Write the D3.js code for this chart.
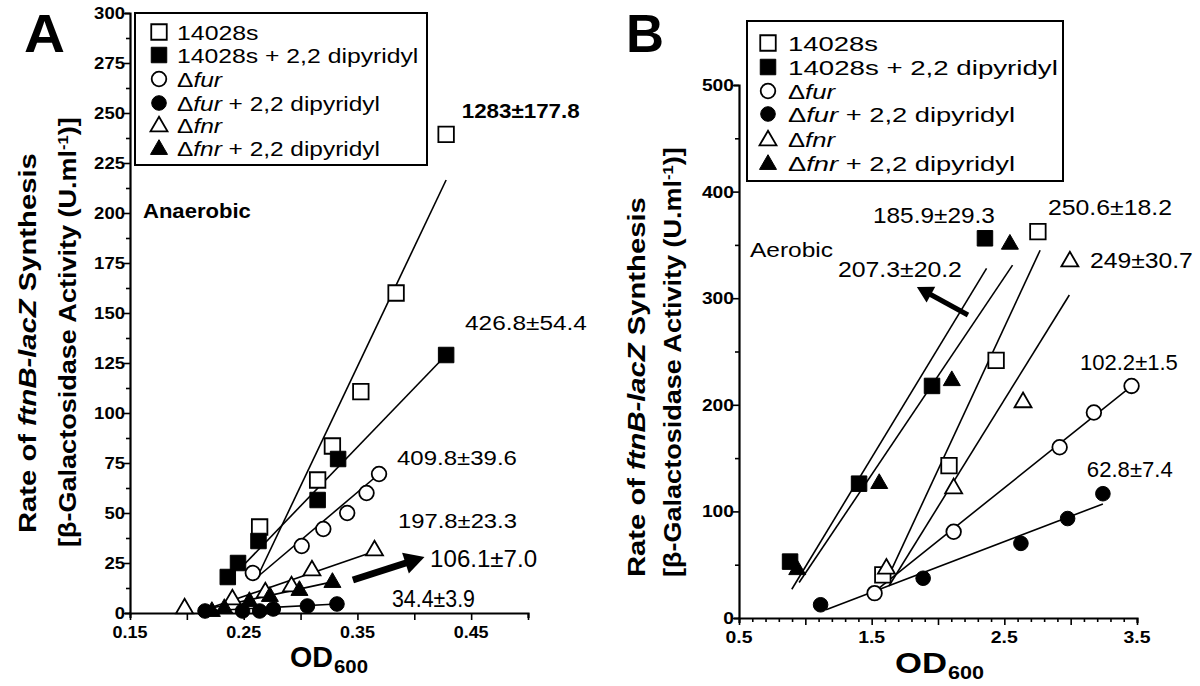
<!DOCTYPE html>
<html><head><meta charset="utf-8">
<script src="https://cdn.jsdelivr.net/npm/d3@7"></script>
<style>body{margin:0;background:#fff}svg{display:block}</style>
</head><body><svg id="c" width="1200" height="686"></svg>
<script>
// ---------------- DATA ----------------
const seriesNames = ["14028s","14028s + 2,2 dipyridyl","Δfur","Δfur + 2,2 dipyridyl","Δfnr","Δfnr + 2,2 dipyridyl"];
const seriesShape = ["square","square","circle","circle","triangle","triangle"];
const seriesFilled = [false,true,false,true,false,true];

// Panel A (anaerobic)
const aWtX = [0.264,0.315,0.328,0.353,0.384,0.428];
const aWtY = [43,66.5,83.5,110.7,160,239.3];
const aWtDipX = [0.236,0.245,0.263,0.315,0.333,0.428];
const aWtDipY = [18,25,36,56.5,77,129];
const aFurX = [0.258,0.301,0.320,0.341,0.358,0.369];
const aFurY = [20,33.5,42,50,60,69.5];
const aFurDipX = [0.216,0.249,0.264,0.276,0.306,0.332];
const aFurDipY = [1,1,1,2,3.5,4.5];
const aFnrX = [0.198,0.240,0.269,0.292,0.310,0.365];
const aFnrY = [3,7.5,11,14,22,32];
const aFnrDipX = [0.222,0.233,0.255,0.273,0.299,0.328];
const aFnrDipY = [1.5,3,6.5,9,12,16];
// fitted lines A (start, end)
const aFitWtX = [0.262,0.428], aFitWtY = [18,216.5];
const aFitWtDipX = [0.250,0.428], aFitWtDipY = [24,129];
const aFitFurX = [0.262,0.369], aFitFurY = [18,69.5];
const aFitFurDipX = [0.216,0.332], aFitFurDipY = [1,4.5];
const aFitFnrX = [0.210,0.366], aFitFnrY = [0.5,31];
const aFitFnrDipX = [0.214,0.329], aFitFnrDipY = [1.5,15.7];

// Panel B (aerobic)
const bWtX = [1.584,2.083,2.438,2.753];
const bWtY = [40.4,143,241.7,362.4];
const bWtDipX = [0.885,1.405,1.955,2.354];
const bWtDipY = [52.9,126,217.7,356.2];
const bFurX = [1.522,2.118,2.917,3.175,3.459];
const bFurY = [23.3,80.9,160.2,192.8,217.7];
const bFurDipX = [1.115,1.888,2.625,2.977,3.243];
const bFurDipY = [12.4,37.3,70,93.3,116.6];
const bFnrX = [1.611,2.118,2.641,2.994];
const bFnrY = [47.6,122.9,203.7,335.8];
const bFnrDipX = [0.939,1.557,2.104,2.542];
const bFnrDipY = [46.7,127.5,224,352];
const bFitWtX = [1.60,2.77], bFitWtY = [32,345];
const bFitWtDipX = [0.898,2.366], bFitWtDipY = [27,328];
const bFitFurX = [1.508,3.473], bFitFurY = [23.3,219];
const bFitFurDipX = [1.156,3.243], bFitFurDipY = [7.8,107];
const bFitFnrX = [1.63,2.99], bFitFnrY = [30,303];
const bFitFnrDipX = [0.953,2.562], bFitFnrDipY = [33.3,331];

// tick labels
const aYTicks = [0,25,50,75,100,125,150,175,200,225,250,275,300];
const aXTicks = [0.15,0.25,0.35,0.45];
const bYTicks = [0,100,200,300,400,500];
const bXTicks = [0.5,1.5,2.5,3.5];

// slope annotations
const aNotes = ["1283±177.8","426.8±54.4","409.8±39.6","197.8±23.3","106.1±7.0","34.4±3.9"];
const aNoteX = [0.4417,0.4446,0.3848,0.3857,0.4139,0.3804];
const aNoteY = [247.5,141.5,74,42.5,23,3];
const bNotes = ["185.9±29.3","207.3±20.2","250.6±18.2","249±30.7","102.2±1.5","62.8±7.4"];
const bNoteX = [1.51,1.246,2.829,3.145,3.07,3.122];
const bNoteY = [370.5,319.9,378,328.3,232.6,132.3];
const aArrowX = [0.346,0.409], aArrowY = [16.5,28];
const bArrowX = [2.226,1.841], bArrowY = [284.2,310.5];

// ---------------- DRAW ----------------
const svg = d3.select("#c");
const FONT = "'Liberation Sans', Arial, Helvetica, sans-serif";

function label(g, x, y, parts, o) {
  const t = g.append("text").attr("font-family", FONT)
    .attr("font-size", o.size).attr("font-weight", o.bold ? 700 : 400).attr("fill", "#000");
  parts.forEach(p => {
    const s = typeof p === "string" ? {t: p} : p;
    const ts = t.append("tspan").text(s.t);
    if (s.i) ts.attr("font-style", "italic");
    if (s.dy != null) ts.attr("dy", s.dy);
    if (s.fs) ts.attr("font-size", s.fs);
  });
  const len = t.node().getComputedTextLength();
  const wd = o.w || len;
  const k = wd / len;
  const ky = o.ky || 1;
  const off = o.anchor === "middle" ? -wd / 2 : o.anchor === "end" ? -wd : 0;
  t.attr("transform", `translate(${x},${y}) rotate(${o.rot || 0}) translate(${off},0) scale(${k},${ky})`);
  return t;
}
function nameParts(n) {
  if (n.startsWith("Δ")) {
    const m = n.match(/^Δ(\w+)(.*)$/);
    return m[2] ? ["Δ", {t: m[1], i: 1}, m[2]] : ["Δ", {t: m[1], i: 1}];
  }
  return [n];
}
function symPath(shape) {
  if (shape === "square") return d3.symbol(d3.symbolSquare, 15.5 * 15.5)();
  if (shape === "circle") return d3.symbol(d3.symbolCircle, Math.PI * 7.3 * 7.3)();
  return d3.symbol(d3.symbolTriangle, 0.433 * 17 * 17)();
}
function marker(g, x, y, i) {
  g.append("path").attr("d", symPath(seriesShape[i]))
    .attr("transform", `translate(${x},${y + (seriesShape[i] === "triangle" ? 1.5 : 0)})`)
    .attr("fill", seriesFilled[i] ? "#000" : "#fff")
    .attr("stroke", "#000").attr("stroke-width", seriesFilled[i] ? 1 : 1.8);
}
function arrow(g, x1, y1, x2, y2, w, hl, hw) {
  const dx = x2 - x1, dy = y2 - y1, L = Math.hypot(dx, dy), ux = dx / L, uy = dy / L;
  const bx = x2 - ux * hl, by = y2 - uy * hl;
  g.append("line").attr("x1", x1).attr("y1", y1).attr("x2", bx + ux * 2).attr("y2", by + uy * 2)
    .attr("stroke", "#000").attr("stroke-width", w);
  g.append("path").attr("d", `M${x2},${y2}L${bx - uy * hw},${by + ux * hw}L${bx + uy * hw},${by - ux * hw}Z`)
    .attr("fill", "#000");
}

function panel(cfg) {
  const g = svg.append("g");
  const {x, y} = cfg;
  // axes
  const yAx = d3.axisLeft(y).tickValues(cfg.yMinor).tickSize(cfg.tickLen).tickFormat("");
  const gy = g.append("g").attr("transform", `translate(${x.range()[0]},0)`).call(yAx);
  const xAx = d3.axisBottom(x).tickValues(cfg.xMinor).tickSize(cfg.tickLen).tickFormat("");
  const gx = g.append("g").attr("transform", `translate(0,${y.range()[0]})`).call(xAx);
  [gy, gx].forEach(a => {
    a.select(".domain").attr("stroke-width", 2.2).attr("stroke", "#000");
    a.selectAll(".tick line").attr("stroke-width", 1.6).attr("stroke", "#000");
  });
  gy.selectAll(".tick line").attr("x2", d => cfg.yTicks.includes(d) ? -6 : -4);
  gx.selectAll(".tick line").attr("y2", d => cfg.xMajorTest(d) ? 7 : 4);
  // tick labels
  cfg.yTicks.forEach(v => label(g, x.range()[0] - 5, y(v) + 6, [String(v)],
    {size: 16, bold: true, w: String(v).length * cfg.yDigitW, anchor: "end"}));
  cfg.xTicks.forEach(v => label(g, x(v), cfg.xLabBase, [cfg.xFmt(v)],
    {size: 17, bold: true, w: cfg.xLabW, anchor: "middle"}));
  // fit lines
  cfg.fits.forEach(f => g.append("line")
    .attr("x1", x(f[0][0])).attr("y1", y(f[1][0])).attr("x2", x(f[0][1])).attr("y2", y(f[1][1]))
    .attr("stroke", "#000").attr("stroke-width", 1.6));
  // points
  cfg.series.forEach((s, i) => s[0].forEach((vx, j) => marker(g, x(vx), y(s[1][j]), i)));
  // notes
  cfg.notes.forEach((n, i) => label(g, x(cfg.noteX[i]), y(cfg.noteY[i]), [n],
    {size: cfg.noteSize[i], bold: cfg.noteBold[i], w: cfg.noteW[i]}));
  // arrow
  arrow(g, x(cfg.arrX[0]), y(cfg.arrY[0]), x(cfg.arrX[1]), y(cfg.arrY[1]), cfg.arrW, cfg.arrHL, cfg.arrHW);
  // legend
  const L = cfg.legend;
  g.append("rect").attr("x", L.x0).attr("y", L.y0).attr("width", L.x1 - L.x0).attr("height", L.y1 - L.y0)
    .attr("fill", "#fff").attr("stroke", "#000").attr("stroke-width", 2);
  seriesNames.forEach((n, i) => {
    marker(g, L.sx, L.rows[i], i);
    label(g, L.tx, L.rows[i] + 7.5, nameParts(n), {size: 21, w: L.widths[i]});
  });
  // condition label
  label(g, x(cfg.cond[1]), y(cfg.cond[2]), [cfg.cond[0]], {size: 20, bold: cfg.cond[4], w: cfg.cond[3]});
  // axis title x
  const od = cfg.od;
  label(g, od[0], od[1], ["OD"], {size: 29, bold: true, w: od[2]});
  label(g, od[0] + od[2] + 1, od[1] + 6, ["600"], {size: 19, bold: true, w: od[3]});
  // y title
  const yt = cfg.yTitle;
  label(g, yt[0], yt[1], ["Rate of ", {t: "ftnB-lacZ", i: 1}, " Synthesis"],
    {size: 23, bold: true, w: yt[2], rot: -90, anchor: "middle"});
  label(g, yt[3], yt[4], ["[β-Galactosidase Activity (U.ml", {t: "-1", dy: -8, fs: 14}, {t: ")]", dy: 8}],
    {size: 23, bold: true, w: yt[5], rot: -90, anchor: "middle"});
  // panel letter
  label(g, cfg.letter[1], cfg.letter[2], [cfg.letter[0]], {size: 48, bold: true, w: cfg.letter[3], ky: 1.12});
}

const xA = d3.scaleLinear().domain([0.15, 0.50]).range([130, 528]);
const yA = d3.scaleLinear().domain([0, 300]).range([613, 13]);
const xB = d3.scaleLinear().domain([0.5, 3.5]).range([739, 1137]);
const yB = d3.scaleLinear().domain([0, 500]).range([618, 85]);

panel({
  x: xA, y: yA, tickLen: 5,
  yMinor: d3.range(0, 300.1, 12.5), yTicks: aYTicks, yDigitW: 10.3,
  xMinor: d3.range(0, 8).map(i => 0.15 + i * 0.05), xMajorTest: d => true,
  xTicks: aXTicks, xFmt: v => v.toFixed(2), xLabBase: 638, xLabW: 35,
  fits: [[aFitWtX, aFitWtY], [aFitWtDipX, aFitWtDipY], [aFitFurX, aFitFurY],
         [aFitFurDipX, aFitFurDipY], [aFitFnrX, aFitFnrY], [aFitFnrDipX, aFitFnrDipY]],
  series: [[aWtX, aWtY], [aWtDipX, aWtDipY], [aFurX, aFurY], [aFurDipX, aFurDipY], [aFnrX, aFnrY], [aFnrDipX, aFnrDipY]],
  notes: aNotes, noteX: aNoteX, noteY: aNoteY,
  noteSize: [21, 21, 21, 21, 23, 23], noteBold: [true, false, false, false, false, false],
  noteW: [118, 122, 120, 119, 107, 83],
  arrX: aArrowX, arrY: aArrowY, arrW: 7, arrHL: 20, arrHW: 11,
  legend: {x0: 135, y0: 13, x1: 427, y1: 165, sx: 159, tx: 177,
           rows: [32, 55, 79, 103, 125, 148], widths: [81.6, 241.6, 45, 203, 45, 203]},
  cond: ["Anaerobic", 0.1614, 197.5, 108, true],
  od: [290, 667, 43, 34],
  yTitle: [36, 343, 380, 76, 332, 430],
  letter: ["A", 24, 52, 41]
});

panel({
  x: xB, y: yB, tickLen: 5,
  yMinor: d3.range(0, 500.1, 50), yTicks: bYTicks, yDigitW: 10.7,
  xMinor: d3.range(0, 31).map(i => +(0.5 + i * 0.1).toFixed(1)), xMajorTest: d => Math.abs(d * 2 - Math.round(d * 2)) < 1e-6,
  xTicks: bXTicks, xFmt: v => v.toFixed(1), xLabBase: 643, xLabW: 27,
  fits: [[bFitWtX, bFitWtY], [bFitWtDipX, bFitWtDipY], [bFitFurX, bFitFurY],
         [bFitFurDipX, bFitFurDipY], [bFitFnrX, bFitFnrY], [bFitFnrDipX, bFitFnrDipY]],
  series: [[bWtX, bWtY], [bWtDipX, bWtDipY], [bFurX, bFurY], [bFurDipX, bFurDipY], [bFnrX, bFnrY], [bFnrDipX, bFnrDipY]],
  notes: bNotes, noteX: bNoteX, noteY: bNoteY,
  noteSize: [22, 22, 22, 22, 22, 22], noteBold: [false, false, false, false, false, false],
  noteW: [122, 124, 124, 103, 98, 86],
  arrX: bArrowX, arrY: bArrowY, arrW: 5, arrHL: 16, arrHW: 9,
  legend: {x0: 747, y0: 21, x1: 1063, y1: 181, sx: 768, tx: 788,
           rows: [43, 67, 91, 114, 139, 163], widths: [90, 270, 47, 227, 47, 227]},
  cond: ["Aerobic", 0.583, 338.6, 83, false],
  od: [895, 673, 52, 36],
  yTitle: [645, 387, 380, 681, 362, 430],
  letter: ["B", 626, 52, 38]
});
</script></body></html>
